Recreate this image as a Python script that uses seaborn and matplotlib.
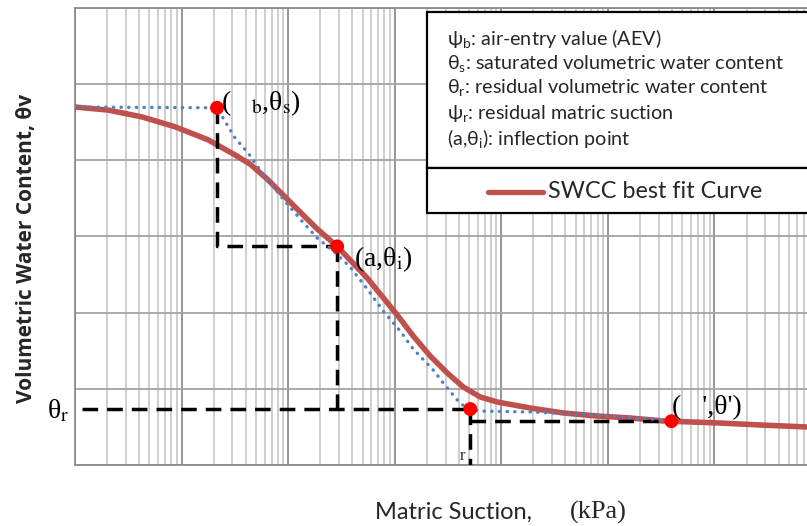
import numpy as np
import matplotlib
matplotlib.use("Agg")
import matplotlib.pyplot as plt
import seaborn as sns
from matplotlib.ticker import LogLocator, MultipleLocator, NullFormatter
from matplotlib.patches import Rectangle
from matplotlib.lines import Line2D

# SWCC best-fit curve (matric suction in kPa, volumetric water content)
suction = [1, 2.04, 4.26, 8.69, 17.7, 31.8, 44.0, 63.5, 89.8, 129.6, 187.3,
           288.5, 382, 552, 731, 1056, 1492, 2154, 3112, 4398, 6350, 9172,
           18720, 38210, 79660, 162700, 331900, 1.139e6, 2.704e6, 7.47e6]
water_content = [0.470, 0.466, 0.457, 0.444, 0.427, 0.407, 0.395, 0.3755,
                 0.3545, 0.332, 0.310, 0.287, 0.269, 0.2455, 0.2245, 0.197,
                 0.1694, 0.1431, 0.1208, 0.1024, 0.0893, 0.0827, 0.0748,
                 0.0683, 0.0643, 0.0617, 0.0578, 0.0551, 0.0525, 0.0499]

# Piecewise construction line (dotted)
construct_suction = [1, 21.5, 24.5, 31.8, 42.1, 60.8, 89.8, 129.6, 187.3,
                     264.6, 382, 552, 780, 1126, 1492, 2299, 2853, 3864, 4796,
                     6350, 18720, 79660, 331900]
construct_wc = [0.470, 0.469, 0.4556, 0.4293, 0.4096, 0.3781, 0.3492, 0.323,
                0.298, 0.281, 0.2599, 0.2311, 0.2022, 0.1759, 0.1523, 0.1247,
                0.1077, 0.0853, 0.0735, 0.0709, 0.0696, 0.0656, 0.0591]

# Characteristic points
psi_b, theta_s = 21.5, 0.469      # air-entry value, saturated content
a_inf, theta_i = 288.5, 0.287     # inflection point
psi_r, theta_r = 5117, 0.0735     # residual suction, residual content
psi_p, theta_p = 3.945e5, 0.0575  # (psi', theta')

key_suction = [psi_b, a_inf, psi_r, psi_p]
key_wc = [theta_s, theta_i, theta_r, theta_p]

legend_lines = [
    "ψ$_\\mathrm{b}$: air-entry value (AEV)",
    "θ$_\\mathrm{s}$: saturated volumetric water content",
    "θ$_\\mathrm{r}$: residual volumetric water content",
    "ψ$_\\mathrm{r}$: residual matric suction",
    "(a,θ$_\\mathrm{i}$): inflection point",
]
curve_label = "SWCC best fit Curve"
x_label = "Matric Suction,"
x_unit = "(kPa)"
y_label = "Volumetric Water Content, θv"

sns.set_theme(style="white")
plt.rcParams["font.family"] = ["Lato", "DejaVu Sans"]
plt.rcParams["mathtext.fontset"] = "custom"
plt.rcParams["mathtext.rm"] = "Lato"
plt.rcParams["mathtext.default"] = "regular"

W, H = 807, 526
fig = plt.figure(figsize=(W / 100, H / 100), dpi=100)
fig.patch.set_facecolor("white")


def fx(px):
    return px / W


def fy(py):
    return 1 - py / H


ax = fig.add_axes([fx(75), fy(465), (821 - 75) / W, (465 - 8) / H])
ax.set_facecolor("white")
ax.set_xscale("log")
ax.set_xlim(1, 1e7)
ax.set_ylim(0, 0.6)

ax.xaxis.set_major_locator(LogLocator(base=10, numticks=20))
ax.xaxis.set_minor_locator(LogLocator(base=10, subs=np.arange(2, 10), numticks=20))
ax.xaxis.set_minor_formatter(NullFormatter())
ax.yaxis.set_major_locator(MultipleLocator(0.1))
ax.tick_params(which="both", length=0, labelbottom=False, labelleft=False)
ax.set_axisbelow(True)
ax.grid(which="minor", axis="x", color="#c6c6c6", lw=1.2)
ax.grid(which="major", axis="x", color="#8c8c8c", lw=1.3)
ax.grid(which="major", axis="y", color="#a4a4a4", lw=1.3)
for s in ax.spines.values():
    s.set_color("#8c8c8c")
    s.set_linewidth(1.3)

# dashed construction lines
dash_kw = dict(color="black", lw=2.5, dashes=(4.5, 2.6), zorder=4,
               dash_capstyle="butt")
ax.plot([psi_b, psi_b, a_inf], [theta_s, theta_i, theta_i], **dash_kw)
ax.plot([a_inf, a_inf], [theta_i, theta_r], **dash_kw)
ax.plot([1.16, psi_r], [theta_r, theta_r], **dash_kw)
ax.plot([psi_r, psi_r], [theta_r, 0], **dash_kw)
ax.plot([psi_r, psi_p], [theta_p, theta_p], **dash_kw)

sns.lineplot(x=suction, y=water_content, ax=ax, color="#C0504D", lw=4.0,
             sort=False, estimator=None, zorder=3, solid_joinstyle="round")
sns.lineplot(x=construct_suction, y=construct_wc, ax=ax, color="#4F81BD",
             lw=2.4, linestyle=(0, (0.1, 2.2)), dash_capstyle="round",
             sort=False, estimator=None, zorder=5)
sns.scatterplot(x=key_suction, y=key_wc, ax=ax, color="#FF0000", s=100,
                edgecolor="none", zorder=6)

serif = dict(family=["Liberation Serif", "DejaVu Serif"], math_fontfamily="stix",
             fontsize=20, color="black")
ax.annotate("(   $_\\mathrm{b}$,θ$_\\mathrm{s}$)", xy=(psi_b, theta_s),
            xytext=(4, 5), textcoords="offset pixels", ha="left", va="center",
            zorder=7, **serif)
ax.annotate("(a,θ$_\\mathrm{i}$)", xy=(a_inf, theta_i), xytext=(17, -13),
            textcoords="offset pixels", ha="left", va="center", zorder=7, **serif)
ax.annotate("(   ',θ')", xy=(psi_p, theta_p), xytext=(1, 14),
            textcoords="offset pixels", ha="left", va="center", zorder=7, **serif)
fig.text(fx(47), fy(411), "θ$_\\mathrm{r}$", ha="left", va="center", **serif)
fig.text(fx(460), fy(456), "r", ha="left", va="center",
         family=["Liberation Serif"], fontsize=12)

# axis titles
fig.text(fx(27), fy(248), y_label, rotation=90, ha="center", va="center",
         fontsize=15, fontweight="bold", family=["Open Sans", "DejaVu Sans"])
fig.text(fx(375), fy(512), x_label, ha="left", va="center", fontsize=17)
fig.text(fx(570), fy(512), x_unit, ha="left", va="center",
         family=["Liberation Serif"], fontsize=19)

# description box and curve key
box1 = Rectangle((fx(427), fy(168)), fx(440), 156 / H, transform=fig.transFigure,
                 facecolor="white", edgecolor="black", lw=1.6, zorder=8)
box2 = Rectangle((fx(427), fy(213)), fx(440), 45 / H, transform=fig.transFigure,
                 facecolor="white", edgecolor="black", lw=1.6, zorder=8)
fig.add_artist(box1)
fig.add_artist(box2)
for i, line in enumerate(legend_lines):
    fig.text(fx(447), fy(38 + 25 * i), line, ha="left", va="center",
             fontsize=14.2, zorder=9)
fig.add_artist(Line2D([fx(488), fx(543)], [fy(192), fy(192)],
                      transform=fig.transFigure, color="#C0504D", lw=3.8,
                      zorder=9))
fig.text(fx(548), fy(192), curve_label, ha="left", va="center", fontsize=16.8,
         zorder=9)

fig.savefig("out.png", dpi=100)
